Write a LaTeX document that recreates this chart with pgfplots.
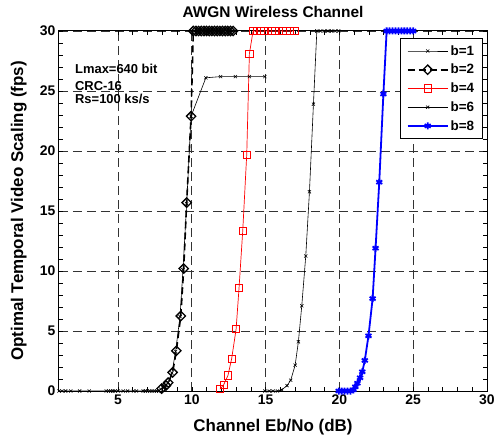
\documentclass[border=0pt]{standalone}
\usepackage{fontspec}
\setmainfont{Liberation Sans}
\usepackage{pgfplots}
\pgfplotsset{compat=1.18}
\begin{document}
\begin{tikzpicture}
\path[use as bounding box] (-59bp,-45bp) rectangle (439bp,391bp);
\begin{axis}[
  at={(0,0)}, anchor=south west,
  scale only axis, width=428bp, height=360bp,
  xmin=1, xmax=30, ymin=0, ymax=30,
  xtick={5,10,15,20,25,30}, ytick={0,5,10,15,20,25,30},
  minor x tick num=4, minor y tick num=4,
  tick align=inside, major tick length=4bp, minor tick length=4bp,
  every tick/.style={black, line width=0.6bp},
  axis line style={line width=1bp},
  grid=major,
  major grid style={black!80, dash pattern=on 9bp off 5bp, line width=0.7bp},
  /pgf/number format/assume math mode=true,
  ticklabel style={font=\fontsize{14}{16}\selectfont\bfseries},
  title={AWGN Wireless Channel},
  title style={font=\fontsize{15.5}{18}\selectfont\bfseries, at={(axis description cs:0.5,1.022)}, anchor=base},
  xlabel={Channel Eb/No (dB)},
  xlabel style={font=\fontsize{17}{20}\selectfont\bfseries, at={(axis description cs:0.5,-0.113)}, anchor=base},
  ylabel={Optimal Temporal Video Scaling (fps)},
  ylabel style={font=\fontsize{17}{20}\selectfont\bfseries, at={(axis description cs:-0.0841,0.5)}, anchor=base, rotate=0},
  legend style={at={(rel axis cs:0.9907,0.9806)}, anchor=north east, draw=black, line width=0.8bp, fill=white,
    font=\fontsize{13.5}{15}\selectfont\bfseries, inner xsep=6.5bp, inner ysep=5bp, row sep=3.5bp},
  legend cell align=left,
  legend image code/.code={\draw[mark repeat=2, mark phase=2] plot coordinates {(0bp,0bp) (20bp,0bp) (40bp,0bp)};},
]
% b=1
\addplot[black, line width=0.6bp, mark=x, mark size=2.2bp] coordinates {
(1,0) (1.2,0) (1.45,0) (1.8,0) (2.4,0) (3.05,0) (4.2,0) (4.35,0) (4.5,0) (4.65,0) (4.8,0) (5.0,0) (5.35,0) (5.65,0) (6.05,0) (6.25,0) (6.7,0) (6.85,0) (7.0,0) (7.15,0) (7.3,0) (7.45,0) (7.6,0) (7.75,0)
(7.9,0.15) (8.2,0.45) (8.4,0.7) (8.65,1.5) (8.9,3.3) (9.2,6.2) (9.4,10.1) (9.65,15.6) (9.95,22.9) (10.95,26.1) (11.95,26.2) (12.95,26.2) (13.9,26.2) (14.95,26.2)
};
\addlegendentry{b=1}
% b=2
\addplot[black, line width=1.6bp, dash pattern=on 7bp off 4bp, mark=square, mark size=3.3bp, mark options={solid, rotate=45, line width=1.3bp}] coordinates {
(7.95,0.2) (8.25,0.45) (8.4,0.7) (8.7,1.55) (8.95,3.35) (9.25,6.25) (9.45,10.2) (9.65,15.7) (9.95,22.9)
(10.1,30) (10.28,30) (10.46,30) (10.64,30) (10.82,30) (11.0,30) (11.18,30) (11.36,30) (11.54,30) (11.72,30) (11.9,30) (12.08,30) (12.26,30) (12.44,30) (12.62,30) (12.8,30)
};
\addlegendentry{b=2}
% b=4
\addplot[red, line width=0.7bp, mark=square, mark size=3.6bp] coordinates {
(11.9,0.15) (12.15,0.5) (12.45,1.3) (12.7,2.7) (13.0,5.15) (13.2,8.6) (13.45,13.35) (13.72,19.7) (13.9,28.1)
(14.15,30) (14.4,30) (14.65,30) (14.9,30) (15.15,30) (15.4,30) (15.65,30) (15.9,30) (16.15,30) (16.4,30) (16.65,30) (16.95,30)
};
\addlegendentry{b=4}
% b=6
\addplot[black, line width=0.6bp, mark=x, mark size=2.2bp] coordinates {
(14.95,0) (15.25,0) (15.5,0) (15.8,0) (16.1,0.1) (16.45,0.45) (16.7,0.9) (17.0,2.15) (17.22,4.1) (17.45,7.1) (17.72,11.25) (17.97,16.6) (18.24,23.9)
(18.47,30) (18.72,30) (18.97,30) (19.22,30) (19.47,30) (19.72,30) (19.95,30)
};
\addlegendentry{b=6}
% b=8
\addplot[blue, line width=1.8bp, mark=asterisk, mark size=3.5bp, mark options={line width=1.8bp}] coordinates {
(19.95,0) (20.15,0) (20.35,0) (20.55,0) (20.75,0) (20.95,0.1) (21.08,0.35) (21.22,0.65) (21.4,1.1) (21.55,1.6) (21.72,2.55) (21.97,4.6) (22.25,7.7) (22.45,11.9) (22.7,17.4) (22.98,24.75)
(23.2,30) (23.4,30) (23.6,30) (23.8,30) (24.0,30) (24.2,30) (24.4,30) (24.6,30) (24.8,30) (25.0,30)
};
\addlegendentry{b=8}
\node[anchor=base west, inner sep=0pt, font=\fontsize{13}{15}\selectfont\bfseries] at (axis cs:2.08,26.42) {Lmax=640 bit};
\node[anchor=base west, inner sep=0pt, font=\fontsize{13}{15}\selectfont\bfseries] at (axis cs:2.08,25.08) {CRC-16};
\node[anchor=base west, inner sep=0pt, font=\fontsize{13}{15}\selectfont\bfseries] at (axis cs:2.08,23.92) {Rs=100 ks/s};
\end{axis}
\end{tikzpicture}
\end{document}
